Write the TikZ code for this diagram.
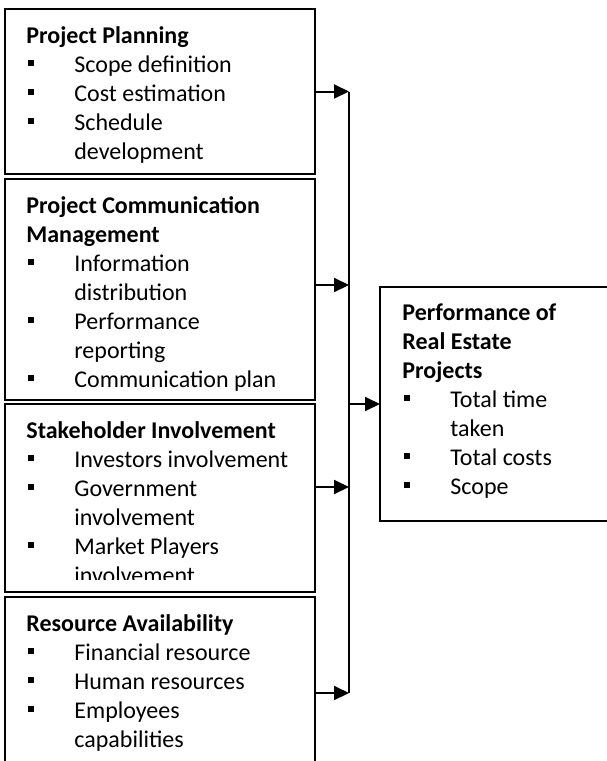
\documentclass[tikz,border=0pt]{standalone}
\usepackage{fontspec}
\setmainfont{Carlito}
\usetikzlibrary{positioning, arrows.meta}

\newcommand{\bitem}{\makebox[24pt][l]{\hspace*{1pt}\rule[3pt]{3pt}{3pt}}}
\newcommand{\bcont}{\hspace*{24pt}}
\newcommand{\firstline}{\rule{0pt}{10pt}}

\begin{document}
\begin{tikzpicture}[
  x=1pt, y=1pt,
  factor/.style={draw, line width=0.9pt, minimum width=155pt, inner sep=0pt, outer sep=0pt},
  listtext/.style={anchor=north west, inner sep=0pt, align=left, font=\fontsize{12}{14.5}\selectfont},
  feed/.style={line width=1pt, -{Triangle[length=7.5pt,width=7pt]}}
]
\useasboundingbox (0,0) rectangle (303,-380.5);

% Factor boxes
\node[factor, minimum height=82.5pt, anchor=north west] (plan) at (2.5,-4.5) {};
\node[factor, minimum height=110.5pt, below=2.5pt of plan] (comm) {};
\node[factor, minimum height=94pt, below=2pt of comm] (stake) {};
\node[factor, minimum height=96pt, below=2.5pt of stake] (res) {};

% Outcome box
\node[factor, minimum width=130pt, minimum height=117pt, anchor=north west] (perf) at (190,-143.5) {};

% Box texts
\node[listtext] (plantxt) at ([xshift=10.5pt,yshift=-7pt]plan.north west)
  {\firstline\textbf{Project Planning}\\\bitem Scope definition\\\bitem Cost estimation\\\bitem Schedule\\\bcont development};
\node[listtext] (commtxt) at ([xshift=10.5pt,yshift=-7pt]comm.north west)
  {\firstline\textbf{Project Communication}\\\textbf{Management}\\\bitem Information\\\bcont distribution\\\bitem Performance\\\bcont reporting\\\bitem Communication plan};
\begin{scope}
  \clip (stake.north west) rectangle ([yshift=6.5pt]stake.south east);
  \node[listtext] (staketxt) at ([xshift=10.5pt,yshift=-7pt]stake.north west)
    {\firstline\textbf{Stakeholder Involvement}\\\bitem Investors involvement\\\bitem Government\\\bcont involvement\\\bitem Market Players\\\bcont involvement};
\end{scope}
\node[listtext] (restxt) at ([xshift=10.5pt,yshift=-7pt]res.north west)
  {\firstline\textbf{Resource Availability}\\\bitem Financial resource\\\bitem Human resources\\\bitem Employees\\\bcont capabilities};
\node[listtext] (perftxt) at ([xshift=11pt,yshift=-6.5pt]perf.north west)
  {\firstline\textbf{Performance of}\\\textbf{Real Estate}\\\textbf{Projects}\\\bitem Total time\\\bcont taken\\\bitem Total costs\\\bitem Scope};

% Collecting line and arrows
\coordinate (bus) at (174.5,0);
\coordinate (commout) at ([yshift=2.25pt]comm.east);
\coordinate (stakeout) at ([yshift=5.5pt]stake.east);
\draw[feed] (plan.east) -- (plan.east -| bus);
\draw[feed] (commout) -- (commout -| bus);
\draw[feed] (stakeout) -- (stakeout -| bus);
\draw[feed] (res.east) -- (res.east -| bus);
\draw[line width=1pt] (plan.east -| bus) -- (res.east -| bus);
\draw[feed] (bus |- perf.west) -- (perf.west);

\end{tikzpicture}
\end{document}
